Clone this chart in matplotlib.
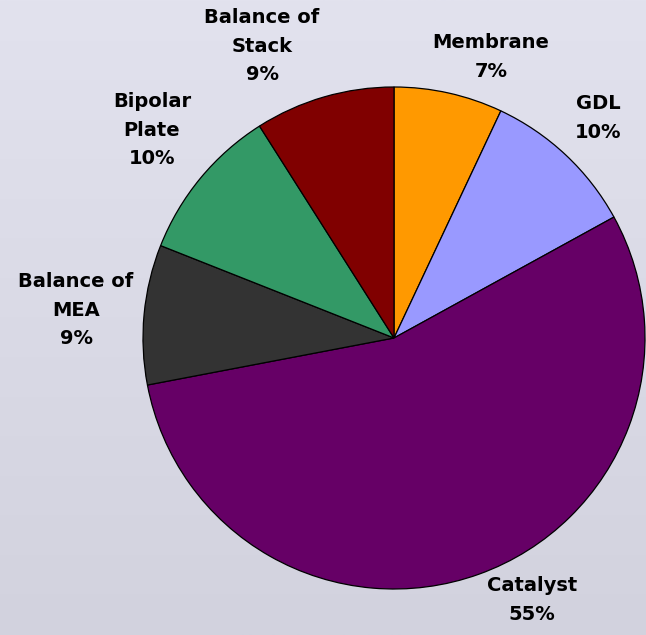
import numpy as np
import matplotlib
matplotlib.use("Agg")
from matplotlib import pyplot as plt

# data
labels = ["Membrane", "GDL", "Catalyst", "Balance of\nMEA", "Bipolar\nPlate", "Balance of\nStack"]
shares = [7, 10, 55, 9, 10, 9]
colors = ["#FF9900", "#9999FF", "#660066", "#333333", "#339966", "#800000"]

# label centres, offset from pie centre in pixels
label_pos = [(97, 281), (204, 220), (138, -262), (-318, 28), (-242, 208), (-132, 292)]

W, H = 646, 635
cx, cy = 394, 338   # pie centre from top-left
R = 251

fig = plt.figure(figsize=(W / 100, H / 100), dpi=100)
ax = fig.add_axes([0, 0, 1, 1])

# soft vertical gradient background
grad = np.linspace(0, 1, 256).reshape(-1, 1)
top = np.array([226, 226, 238]) / 255
bot = np.array([210, 210, 222]) / 255
img = top + (bot - top) * grad[..., None]
ax.imshow(img, extent=(-cx, W - cx, -(H - cy), cy), aspect="auto", zorder=0)

wedges, _ = ax.pie(shares, colors=colors, startangle=90, counterclock=False,
                   radius=R, center=(0, 0), frame=True,
                   wedgeprops=dict(edgecolor="black", linewidth=0.9))
for w in wedges:
    w.set_zorder(2)
ax.set_xlim(-cx, W - cx)
ax.set_ylim(-(H - cy), cy)
ax.axis("off")

for lab, v, (x, y) in zip(labels, shares, label_pos):
    ax.text(x, y, f"{lab}\n{v}%", ha="center", va="center", fontsize=14,
            fontweight="bold", linespacing=1.65, family="DejaVu Sans", zorder=3)

fig.savefig("out.png", dpi=100)
